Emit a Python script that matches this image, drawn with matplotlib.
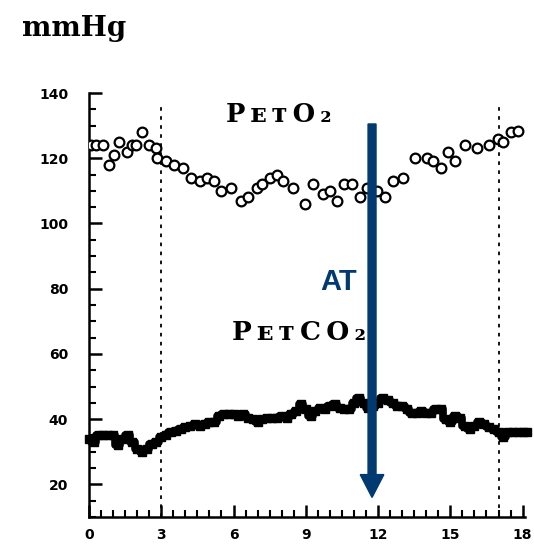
import matplotlib
matplotlib.use("Agg")
import matplotlib.pyplot as plt
from matplotlib.ticker import MultipleLocator

# ---- data ----
o2_time = [0.1, 0.3, 0.6, 0.83, 1.05, 1.25, 1.58, 1.8, 1.96, 2.2, 2.5, 2.8, 2.83,
           3.2, 3.54, 3.9, 4.25, 4.6, 4.9, 5.2, 5.5, 5.9, 6.3, 6.6, 6.96, 7.2, 7.5,
           7.8, 8.04, 8.46, 8.96, 9.3, 9.7, 10.0, 10.3, 10.6, 10.9, 11.25, 11.54,
           11.96, 12.3, 12.6, 13.04, 13.54, 14.04, 14.3, 14.6, 14.9, 15.2, 15.6,
           16.1, 16.6, 16.96, 17.2, 17.5, 17.8]
o2_vals = [124, 124, 124, 118, 121, 125, 122, 124, 124, 128, 124, 123, 120,
           119, 118, 117, 114, 113, 114, 113, 110, 111, 107, 108, 111, 112, 114,
           115, 113, 111, 106, 112, 109, 110, 107, 112, 112, 108, 111,
           110, 108, 113, 114, 120, 120, 119, 117, 122, 119, 124,
           123, 124, 126, 125, 128, 128.5]

co2_time = [0.0, 0.2, 0.4, 0.6, 0.8, 1.0, 1.2, 1.4, 1.6, 1.8, 2.0, 2.2, 2.4, 2.6,
            2.8, 3.0, 3.2, 3.4, 3.6, 3.8, 4.0, 4.2, 4.4, 4.6, 4.8, 5.0, 5.2, 5.4,
            5.6, 5.8, 6.0, 6.2, 6.4, 6.6, 6.8, 7.0, 7.2, 7.4, 7.6, 7.8, 8.0, 8.2,
            8.4, 8.6, 8.8, 9.0, 9.2, 9.4, 9.6, 9.8, 10.0, 10.2, 10.4, 10.6, 10.8,
            11.0, 11.2, 11.4, 11.6, 11.8, 12.0, 12.2, 12.4, 12.6, 12.8, 13.0, 13.2,
            13.4, 13.6, 13.8, 14.0, 14.2, 14.4, 14.6, 14.8, 15.0, 15.2, 15.4, 15.6,
            15.8, 16.0, 16.2, 16.4, 16.6, 16.8, 17.0, 17.2, 17.4, 17.6, 17.8, 18.0,
            18.2]
co2_vals = [34, 33, 35, 35, 35, 35, 32, 34, 35, 33, 31, 30, 31, 32.5,
            33, 34.5, 35, 36, 36.5, 37, 37.5, 38, 38.5, 38, 38.5, 39, 39, 41,
            41.5, 41.5, 41.5, 41, 41.5, 40.5, 40, 39, 40, 40.5, 40.5, 40.5, 41, 40.5,
            41.5, 42.5, 44.5, 43, 41, 42.5, 43.5, 43, 44, 44.5, 43.5, 43, 43,
            45, 46.5, 45, 43.5, 44, 45, 46.5, 46, 45, 44, 44, 43,
            42, 42, 42.5, 42, 42, 43, 43, 40, 39, 41, 40.5, 38,
            37, 38, 39, 38.5, 37.5, 37, 36, 34.5, 36, 36, 36, 36,
            36]

x_ticks = [0, 3, 6, 9, 12, 15, 18]
y_ticks = [20, 40, 60, 80, 100, 120, 140]
exercise_marks = [3, 17]
at_time = 11.75
arrow_top, arrow_tip = 130.5, 16.0

navy = "#003A70"
thin = "\u2009"

fig = plt.figure(figsize=(5.34, 5.52), dpi=100)
ax = fig.add_axes([89 / 534, 1 - 517 / 552, (525 - 89) / 534, (517 - 93) / 552])
ax.set_xlim(0, 18.1)
ax.set_ylim(10, 140)

# dotted vertical lines
for xm in exercise_marks:
    ax.plot([xm, xm], [10, 137], color="black", lw=1.3,
            linestyle=(0, (2.0, 3.0)), zorder=2)

# PETCO2 thick band
ax.plot(co2_time, co2_vals, color="black", lw=5.5, drawstyle="steps-mid",
        marker="s", markersize=6, zorder=3, clip_on=False)

# PETO2 open markers
ax.plot(o2_time, o2_vals, linestyle="none", marker="o", markersize=7,
        markerfacecolor="white", markeredgecolor="black", markeredgewidth=1.6,
        zorder=3)

# AT arrow
ax.arrow(at_time, arrow_top, 0, arrow_tip - arrow_top, width=0.33,
         head_width=0.98, head_length=7.0, length_includes_head=True,
         color=navy, zorder=5)
ax.text(at_time - 0.62, 82, "AT", color=navy, fontsize=21, fontweight="bold",
        family="Liberation Sans", ha="right", va="center", zorder=6)

# labels
ax.text(5.68, 133.5, thin.join("PᴇᴛO₂"), fontsize=18.5, fontweight="bold",
        family=["DejaVu Serif", "DejaVu Sans"], ha="left", va="center")
ax.text(5.95, 66.5, thin.join("PᴇᴛCO₂"), fontsize=19, fontweight="bold",
        family=["DejaVu Serif", "DejaVu Sans"], ha="left", va="center")
fig.text(22 / 534, 1 - 28 / 552, "mmHg", fontsize=20, fontweight="bold",
         family="DejaVu Serif", ha="left", va="center")

# axes styling
for s in ["top", "right"]:
    ax.spines[s].set_visible(False)
for s in ["left", "bottom"]:
    ax.spines[s].set_linewidth(1.8)

ax.set_xticks(x_ticks)
ax.set_yticks(y_ticks)
ax.xaxis.set_minor_locator(MultipleLocator(0.5))
ax.yaxis.set_minor_locator(MultipleLocator(5))
ax.tick_params(axis="both", which="major", direction="in", length=9, width=1.8,
               labelsize=10)
ax.tick_params(axis="both", which="minor", direction="in", length=5, width=1.5)
ax.tick_params(axis="y", which="major", pad=15)
ax.tick_params(axis="x", which="major", pad=8)
for lab in ax.get_xticklabels() + ax.get_yticklabels():
    lab.set_fontweight("bold")

fig.savefig("out.png", dpi=100)
